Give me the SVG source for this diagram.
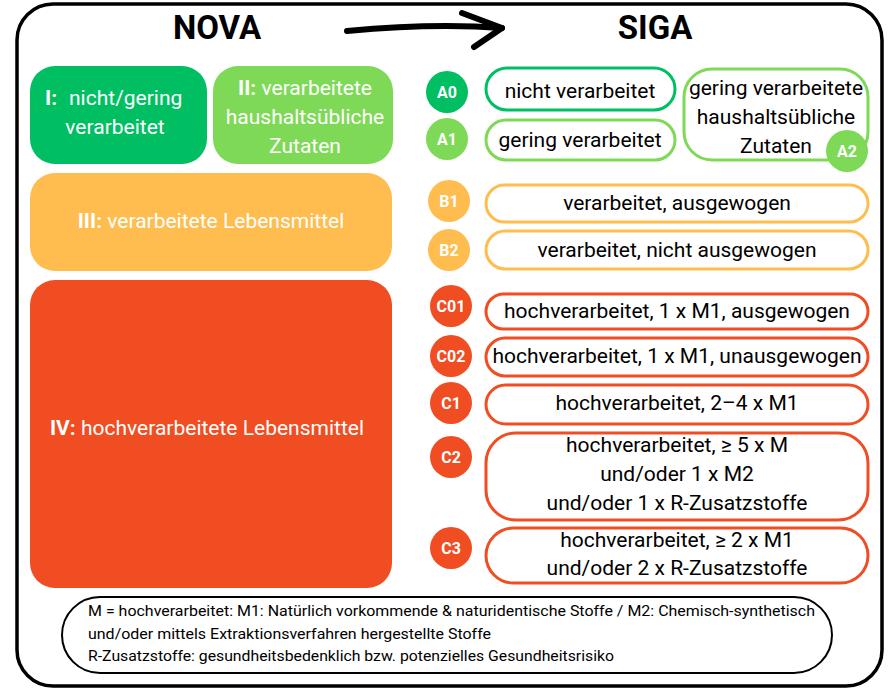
<svg xmlns="http://www.w3.org/2000/svg" width="895" height="689" viewBox="0 0 895 689">
<style>
text{font-family:Roboto,"Noto Sans","Liberation Sans",sans-serif}
.title{font-size:33px;font-weight:bold;fill:#000;text-anchor:middle}
.wt{font-size:21px;fill:#fff;text-anchor:middle}
.bt{font-size:21px;fill:#000;text-anchor:middle}
.ct{font-size:16px;font-weight:bold;fill:#fff;text-anchor:middle}
.lg{font-size:15px;fill:#000}
.pill{fill:#fff;stroke-width:3}
.g0{fill:#00BF63}.g1{fill:#7ED957}.y{fill:#FFBD4F}.r{fill:#F04D22}
.sg0{stroke:#00BF63}.sg1{stroke:#7ED957}.sy{stroke:#FFBD4F}.sr{stroke:#F04D22}
</style>
<rect x="17" y="4" width="865" height="682" rx="36" fill="#fff" stroke="#000" stroke-width="3.5"/>
<text class="title" x="217" y="39">NOVA</text>
<text class="title" x="655" y="39">SIGA</text>
<g id="connectors" fill="none" stroke="#000" stroke-width="6" stroke-linecap="round" stroke-linejoin="round">
<path d="M347,31 C400,26 450,24 502,28"/>
<path d="M462,13 L502,28 L474,47"/>
</g>
<g id="nova-I">
<rect class="g0" x="30" y="66" width="177" height="98" rx="25"/>
<text class="wt" x="45" y="105" text-anchor="start" style="text-anchor:start"><tspan font-weight="bold">I:</tspan><tspan x="69">nicht/gering</tspan></text>
<text class="wt" x="115" y="134">verarbeitet</text>
</g>
<g id="nova-II">
<rect class="g1" x="213" y="66" width="180" height="98" rx="25"/>
<text class="wt" x="305" y="95"><tspan font-weight="bold">II:</tspan> verarbeitete</text>
<text class="wt" x="305" y="124">haushaltsübliche</text>
<text class="wt" x="305" y="153">Zutaten</text>
</g>
<g id="nova-III">
<rect class="y" x="30" y="173" width="362" height="98" rx="25"/>
<text class="wt" x="211" y="228"><tspan font-weight="bold">III:</tspan> verarbeitete Lebensmittel</text>
</g>
<g id="nova-IV">
<rect class="r" x="30" y="280" width="362" height="308" rx="25"/>
<text class="wt" x="207" y="435"><tspan font-weight="bold">IV:</tspan> hochverarbeitete Lebensmittel</text>
</g>
<g id="siga-A0">
<circle class="g0" cx="447" cy="92" r="21"/>
<text class="ct" x="447" y="98">A0</text>
<rect class="pill sg0" x="486" y="68" width="189" height="42" rx="21"/>
<text class="bt" x="580" y="98">nicht verarbeitet</text>
</g>
<g id="siga-A1">
<circle class="g1" cx="447" cy="139" r="21"/>
<text class="ct" x="447" y="145">A1</text>
<rect class="pill sg1" x="486" y="120" width="189" height="40" rx="20"/>
<text class="bt" x="580" y="147">gering verarbeitet</text>
</g>
<g id="siga-A2">
<rect class="pill sg1" x="684" y="69" width="184" height="91" rx="28"/>
<text class="bt" x="776" y="95">gering verarbeitete</text>
<text class="bt" x="776" y="124">haushaltsübliche</text>
<text class="bt" x="776" y="153">Zutaten</text>
<circle class="g1" cx="847" cy="151" r="21"/>
<text class="ct" x="847" y="157">A2</text>
</g>
<g id="siga-B1">
<circle class="y" cx="449" cy="201" r="21"/>
<text class="ct" x="449" y="207">B1</text>
<rect class="pill sy" x="486" y="185" width="382" height="37" rx="18.5"/>
<text class="bt" x="677" y="210">verarbeitet, ausgewogen</text>
</g>
<g id="siga-B2">
<circle class="y" cx="449" cy="250" r="21"/>
<text class="ct" x="449" y="256">B2</text>
<rect class="pill sy" x="486" y="231" width="382" height="38" rx="19"/>
<text class="bt" x="677" y="257">verarbeitet, nicht ausgewogen</text>
</g>
<g id="siga-C01">
<circle class="r" cx="451" cy="306" r="21"/>
<text class="ct" x="451" y="312">C01</text>
<rect class="pill sr" x="486" y="294" width="382" height="35" rx="17.5"/>
<text class="bt" x="677" y="318">hochverarbeitet, 1 x M1, ausgewogen</text>
</g>
<g id="siga-C02">
<circle class="r" cx="451" cy="356" r="21"/>
<text class="ct" x="451" y="362">C02</text>
<rect class="pill sr" x="486" y="338" width="382" height="38" rx="19"/>
<text class="bt" x="677" y="363">hochverarbeitet, 1 x M1, unausgewogen</text>
</g>
<g id="siga-C1">
<circle class="r" cx="451" cy="403" r="21"/>
<text class="ct" x="451" y="409">C1</text>
<rect class="pill sr" x="486" y="385" width="382" height="39" rx="19.5"/>
<text class="bt" x="677" y="410">hochverarbeitet, 2–4 x M1</text>
</g>
<g id="siga-C2">
<circle class="r" cx="451" cy="457" r="21"/>
<text class="ct" x="451" y="463">C2</text>
<rect class="pill sr" x="486" y="433" width="382" height="87" rx="30"/>
<text class="bt" x="677" y="452">hochverarbeitet, ≥ 5 x M</text>
<text class="bt" x="677" y="481">und/oder 1 x M2</text>
<text class="bt" x="677" y="510">und/oder 1 x R-Zusatzstoffe</text>
</g>
<g id="siga-C3">
<circle class="r" cx="451" cy="548" r="21"/>
<text class="ct" x="451" y="554">C3</text>
<rect class="pill sr" x="486" y="528" width="382" height="55" rx="27.5"/>
<text class="bt" x="677" y="547">hochverarbeitet, ≥ 2 x M1</text>
<text class="bt" x="677" y="575">und/oder 2 x R-Zusatzstoffe</text>
</g>
<g id="legend">
<rect x="62" y="597" width="770" height="76" rx="38" fill="#fff" stroke="#000" stroke-width="2"/>
<text class="lg" x="88" y="616" textLength="727" lengthAdjust="spacingAndGlyphs">M = hochverarbeitet: M1: Natürlich vorkommende &amp; naturidentische Stoffe / M2: Chemisch-synthetisch</text>
<text class="lg" x="88" y="639" textLength="403" lengthAdjust="spacingAndGlyphs">und/oder mittels Extraktionsverfahren hergestellte Stoffe</text>
<text class="lg" x="88" y="661" textLength="526" lengthAdjust="spacingAndGlyphs">R-Zusatzstoffe: gesundheitsbedenklich bzw. potenzielles Gesundheitsrisiko</text>
</g>
</svg>
